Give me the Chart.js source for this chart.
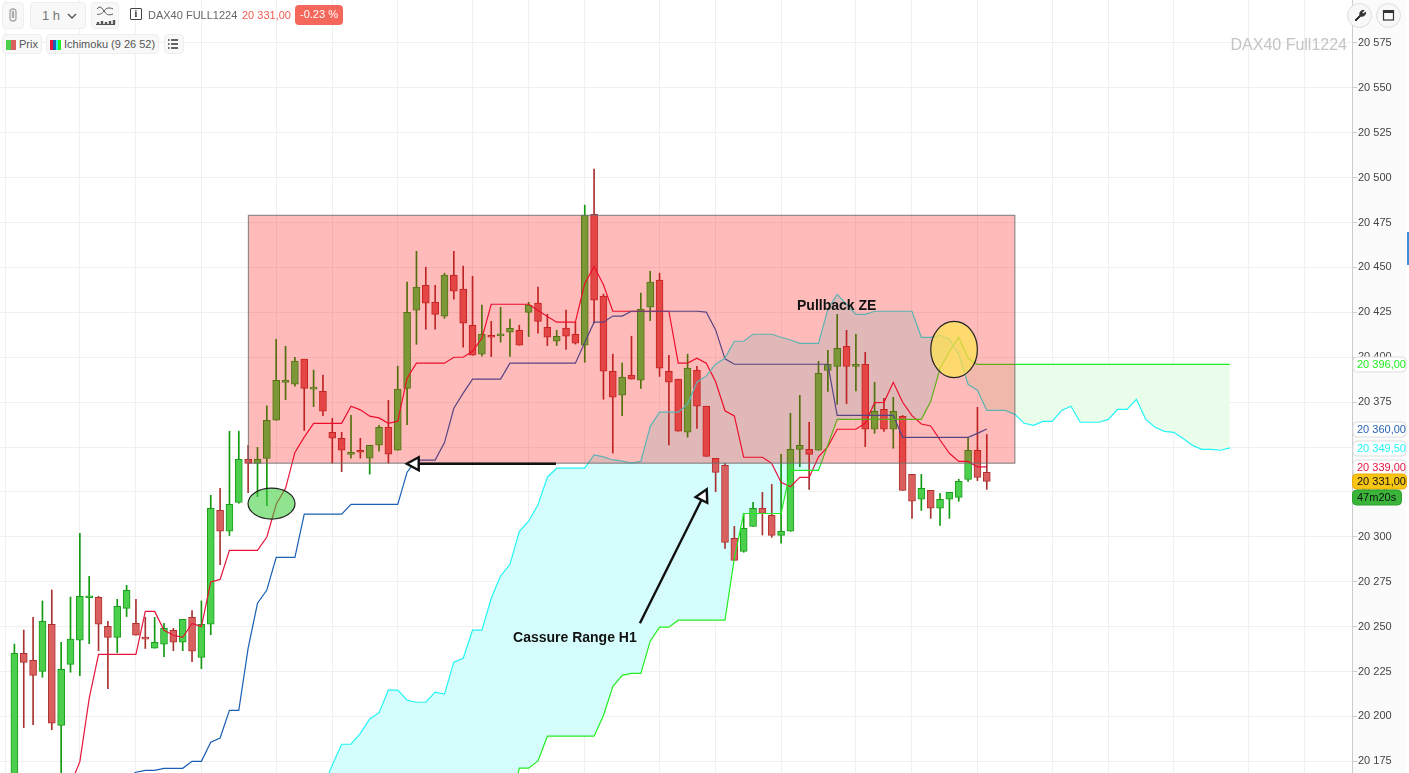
<!DOCTYPE html>
<html lang="fr">
<head>
<meta charset="utf-8">
<title>DAX40 Full1224 - Ichimoku 1h</title>
<script src="https://cdn.jsdelivr.net/npm/chart.js@4/dist/chart.umd.min.js"></script>
<style>
    html, body { margin: 0; padding: 0; background: #fff; overflow: hidden; font-family: "Liberation Sans", Arial, sans-serif; }
    #wrap { position: relative; width: 1409px; height: 773px; overflow: hidden; }
    #chart { position: absolute; left: 0; top: 0; }
    .ui { position: absolute; box-sizing: border-box; font-size: 11px; color: #666; white-space: nowrap; }
    .btn { background: #f8f8f8; border: 1px solid #eee; border-radius: 4px; }
    .sw { position: absolute; top: 5px; height: 10px; }
    .round { width: 25px; height: 25px; border-radius: 50%; background: #f8f8f8; border: 1px solid #ddd; }
</style>
</head>
<body>
<div id="wrap">
    <canvas id="chart" width="1409" height="773"></canvas>

    <!-- Top toolbar -->
    <div class="ui btn" style="left:2px;top:2px;width:22px;height:27px;">
        <svg width="20" height="25"><path d="M7 15V9a3 3 0 0 1 6 0v6a3 3 0 0 1-6 0Z M9.5 15V9a.5 .5 0 0 1 1 0v6" fill="none" stroke="#aaa" stroke-width="1.4"/></svg>
    </div>
    <div class="ui btn" style="left:30px;top:2px;width:56px;height:27px;line-height:26px;padding-left:11px;font-size:13px;color:#777;">1 h
        <svg style="position:absolute;left:36px;top:10px;" width="10" height="7"><path d="M1 1l4 4 4-4" fill="none" stroke="#555" stroke-width="1.4"/></svg>
    </div>
    <div class="ui btn" style="left:91px;top:2px;width:28px;height:27px;">
        <svg width="26" height="25"><path d="M5 6c3-4 5-1 7 2s4 5 9 3M5 11c2 1 5 0 7-3s5-4 9-2" fill="none" stroke="#555" stroke-width="1"/><path d="M6 21v-2M10 21v-3M14 21v-2M18 21v-3M22 21v-4" stroke="#555" stroke-width="2.4"/><path d="M4 21.5h19" stroke="#555"/></svg>
    </div>
    <div class="ui" style="left:130px;top:8px;width:12px;height:12px;border:1.5px solid #444;border-radius:1px;color:#333;font:bold 10px/10px 'Liberation Serif',serif;text-align:center;">i</div>
    <div class="ui" style="left:148px;top:9px;">DAX40 FULL1224</div>
    <div class="ui" style="left:242px;top:9px;color:#ee5c52;">20 331,00</div>
    <div class="ui" style="left:295px;top:5px;width:48px;height:20px;line-height:19px;text-align:center;background:#f4685c;color:#fff;border-radius:4px;">-0.23 %</div>

    <!-- Legend row -->
    <div class="ui btn" style="left:2px;top:34px;width:40px;height:20px;line-height:19px;padding-left:16px;color:#555;">
        <span class="sw" style="left:3px;width:5px;background:#4ccf4c;"></span><span class="sw" style="left:8px;width:5px;background:#d9605f;"></span>Prix
    </div>
    <div class="ui btn" style="left:46px;top:34px;width:113px;height:20px;line-height:19px;padding-left:17px;color:#555;">
        <span class="sw" style="left:3px;width:3px;background:#e5143c;"></span><span class="sw" style="left:6px;width:3px;background:#1a5fb4;"></span><span class="sw" style="left:9px;width:2px;background:#22f5f5;"></span><span class="sw" style="left:11px;width:3px;background:#22ee22;"></span>Ichimoku (9 26 52)
    </div>
    <div class="ui btn" style="left:164px;top:34px;width:20px;height:20px;">
        <svg width="18" height="18"><path d="M6 5h7M6 9h7M6 13h7" stroke="#333" stroke-width="1.5"/><path d="M3 5h1.5M3 9h1.5M3 13h1.5" stroke="#333" stroke-width="1.5"/></svg>
    </div>

    <!-- Top right -->
    <div class="ui round" style="left:1347px;top:3px;">
        <svg width="23" height="23"><path d="M7 16l5-5a3.4 3.4 0 0 1 4-4.5l-2 2 1.5 1.5 2-2a3.4 3.4 0 0 1-4.5 4l-5 5Z" fill="#333" stroke="#333"/></svg>
    </div>
    <div class="ui round" style="left:1376px;top:3px;">
        <svg width="23" height="23"><rect x="6.5" y="7" width="10" height="9" fill="none" stroke="#333" stroke-width="1.2"/><rect x="6" y="6" width="11" height="3" fill="#333"/></svg>
    </div>
    <div class="ui" style="right:62px;top:36px;font-size:16px;color:#c4c4c4;">DAX40 Full1224</div>
    <div class="ui" style="left:1407px;top:232px;width:2px;height:33px;background:#3d8fd8;"></div>
</div>

<script>
// Candles, one entry per hour
const opens = [
    20150, 20235.1, 20231.2, 20225.1, 20251.3, 20195, 20229, 20242.4, 20266.1, 20266.3,
    20250.2, 20244, 20260.2, 20251.9, 20244, 20238, 20240.2, 20248, 20241.3, 20255.2,
    20232.9, 20251.3, 20314.8, 20303.1, 20319.2, 20343.2, 20340.9, 20343.7, 20364.9, 20386,
    20385, 20398.9, 20382.2, 20381, 20358.2, 20354.9, 20345.9, 20348.2, 20343.8, 20351,
    20361, 20348.2, 20382.7, 20426.2, 20440.1, 20430.6, 20422.8, 20445.7, 20437.9, 20417.8,
    20401.7, 20411.5, 20411.9, 20413.9, 20415, 20425, 20430.1, 20416.7, 20408.9, 20416.2,
    20412.8, 20406.7, 20479.6, 20434, 20392.2, 20378.9, 20390, 20387.2, 20427.9, 20442.9,
    20392.2, 20387.8, 20358.3, 20392.8, 20372.7, 20343.7, 20339.8, 20299.2, 20291.9, 20305.8,
    20315.9, 20312, 20300.8, 20303.1, 20348.7, 20348.7, 20348.2, 20392.7, 20394.9, 20406.1,
    20394.9, 20396, 20359.9, 20371, 20359.9, 20367.1, 20334.8, 20320.9, 20325.9, 20315.9,
    20320.9, 20322, 20332, 20348.2, 20335.9
];
const highs = [
    20240.3, 20248.1, 20255.2, 20264.3, 20270.4, 20241.3, 20266.5, 20302, 20278, 20266.9,
    20253, 20265.2, 20273, 20265.2, 20255.2, 20255.2, 20251.9, 20249, 20254, 20259,
    20264.3, 20323.1, 20327, 20358.8, 20358.8, 20351, 20349.8, 20372.9, 20410, 20406.1,
    20400, 20398.9, 20392.8, 20390, 20366, 20358.2, 20367.7, 20354.9, 20351, 20362.1,
    20376, 20395, 20441.8, 20459, 20450.1, 20440.1, 20446.8, 20459, 20450.7, 20445.1,
    20429, 20420, 20427.8, 20421.2, 20417.8, 20430.6, 20439, 20424, 20415, 20426.2,
    20419.5, 20484.7, 20504.7, 20435.1, 20401.7, 20396.7, 20411.7, 20435.7, 20447.9, 20446.8,
    20401.1, 20387.8, 20401.7, 20395, 20372.7, 20343.7, 20340.9, 20305.8, 20313, 20319.2,
    20324.8, 20329.2, 20345.9, 20368.8, 20378.8, 20363.7, 20397.7, 20403.8, 20423.9, 20415,
    20412.7, 20402.7, 20386, 20377.1, 20377.7, 20367.6, 20334.8, 20334.8, 20325.9, 20324.2,
    20324.8, 20332, 20354.8, 20372.1, 20357
];
const lows = [
    20140, 20193.8, 20195.4, 20221.8, 20192.6, 20165, 20224.6, 20222.7, 20240.5, 20236.6,
    20215.5, 20235.5, 20255.6, 20245.2, 20237.8, 20238, 20233.3, 20236.6, 20236.6, 20230.5,
    20226.6, 20245.5, 20284.5, 20300.7, 20318.7, 20324.6, 20322.4, 20317.4, 20364.9, 20376.4,
    20383.9, 20359.2, 20372.5, 20367.5, 20341, 20336.3, 20343.8, 20343.8, 20334.9, 20347.7,
    20341, 20348.2, 20362.5, 20407.2, 20415.6, 20415.6, 20421.7, 20432.3, 20405.6, 20401.1,
    20400.6, 20400.4, 20408.4, 20400.4, 20406.7, 20411.5, 20413.4, 20406.5, 20406.5, 20404.3,
    20407.3, 20397.2, 20419, 20376.6, 20346.6, 20367.5, 20387.8, 20382.6, 20420.4, 20389.3,
    20351.2, 20358.8, 20355.5, 20360.3, 20344.8, 20325.1, 20293.6, 20286.9, 20291.4, 20305.8,
    20301, 20299.7, 20296.4, 20303.1, 20339, 20326.4, 20348.2, 20381, 20373.8, 20374.1,
    20381.2, 20350.2, 20357.6, 20358.7, 20349.3, 20325.9, 20310.3, 20314.7, 20310.3, 20306.4,
    20310.3, 20319.8, 20330.9, 20331.3, 20326.4
];
const closes = [
    20235.1, 20230.1, 20222.9, 20253, 20196.2, 20226.2, 20243, 20266.9, 20266.3, 20251.3,
    20244, 20261.3, 20270.2, 20245.2, 20243, 20241.3, 20249, 20241.3, 20254, 20236.3,
    20251.3, 20315.9, 20303.1, 20318.1, 20343.2, 20340.9, 20343.2, 20364.9, 20387.2, 20386.2,
    20397.8, 20382.7, 20382.5, 20369.9, 20354.9, 20348.2, 20346.1, 20347.1, 20351, 20361,
    20346, 20382.2, 20425, 20439, 20430.1, 20423.9, 20445.7, 20436.8, 20418.9, 20401.1,
    20412.8, 20411.1, 20412.2, 20416.1, 20406.7, 20429, 20420, 20411.2, 20411.7, 20411.7,
    20407.8, 20479.1, 20431.8, 20392.2, 20377.8, 20388.9, 20387.8, 20426.8, 20441.8, 20393.9,
    20386.1, 20358.8, 20393.9, 20372.7, 20344.8, 20335.9, 20296.9, 20286.9, 20304.7, 20315.9,
    20313.1, 20300.8, 20303.1, 20348.7, 20350.9, 20345.9, 20391, 20396, 20405, 20394.9,
    20396, 20359.9, 20369.9, 20359.9, 20369.9, 20325.9, 20319.8, 20327, 20315.9, 20320.9,
    20324.8, 20330.9, 20348.2, 20333.1, 20330.9
];

// Ichimoku lines, each one starts at its own candle index
const tenkanStart = 6;
const tenkan = [
    20162, 20174.8, 20210, 20234.6, 20234.6, 20234.6, 20234.6, 20234.6, 20258.5, 20258.5,
    20248, 20245.2, 20244, 20251.8, 20250, 20274.9, 20276.3, 20292.5, 20292.5, 20292.5,
    20292.5, 20299.9, 20318.1, 20327, 20347, 20355.5, 20363.2, 20363.2, 20363.2, 20363.2,
    20372.7, 20370.7, 20367.2, 20366.2, 20363.2, 20364.4, 20388.3, 20396.7, 20396.7, 20396.7,
    20396.7, 20400, 20400, 20403.3, 20410.6, 20429.5, 20429.5, 20429.5, 20429.5, 20429.5,
    20426, 20422.7, 20419.5, 20419.5, 20419.5, 20441, 20450.5, 20440.3, 20425.6, 20425.6,
    20425.6, 20425.6, 20425.6, 20425.6, 20425.6, 20396.7, 20396.7, 20399.5, 20396.7, 20386.3,
    20370.2, 20367.3, 20344.3, 20344.3, 20344.3, 20340.9, 20330.3, 20327.9, 20333.1, 20333.1,
    20344.6, 20350.2, 20359.9, 20359.9, 20359.9, 20363.2, 20374.7, 20374.9, 20386, 20374.9,
    20367.5, 20362.8, 20361.7, 20353.9, 20346.5, 20342, 20342, 20338.9, 20338.9
];
const kijunStart = 12;
const kijun = [
    20166, 20168.9, 20170, 20170, 20171.1, 20171.1, 20171.1, 20175, 20175, 20185.6,
    20188, 20203.4, 20203.4, 20238, 20263, 20270.4, 20288.6, 20288.6, 20288.6, 20312.6,
    20312.6, 20312.6, 20312.6, 20312.6, 20318.1, 20318.1, 20318.1, 20318.1, 20318.1, 20318.1,
    20336, 20342.7, 20342.7, 20342.7, 20352.5, 20371.6, 20380, 20387.8, 20387.8, 20387.8,
    20387.8, 20396.7, 20396.7, 20396.7, 20396.7, 20396.7, 20396.7, 20396.7, 20396.7, 20408.2,
    20419.5, 20419.5, 20422.9, 20422.9, 20425.6, 20425.6, 20425.6, 20425.6, 20425.6, 20425.6,
    20425.6, 20425.6, 20425.1, 20415.2, 20399.1, 20396.1, 20396.1, 20396.1, 20396.1, 20396.1,
    20396.1, 20396.1, 20396.1, 20396.1, 20396.1, 20396.1, 20367.6, 20367.6, 20367.6, 20367.6,
    20367.6, 20367.6, 20367.6, 20355.4, 20355.4, 20355.4, 20355.4, 20355.4, 20355.4, 20355.4,
    20355.4, 20357.6, 20360
];
// Both cloud spans share the same start so the fill lines up
const spanStart = 33;
const spanA = [
    20160, 20173, 20184.5, 20184.5, 20190.6, 20198.6, 20202.1, 20214.6, 20214.6, 20209,
    20207.9, 20207.9, 20213.5, 20212.4, 20230.2, 20232.4, 20248, 20248, 20265.8, 20278.2,
    20284.7, 20302.9, 20308.7, 20317.8, 20333.2, 20338.2, 20338.2, 20338.2, 20338.2, 20345.6,
    20344.5, 20342.8, 20342.1, 20341, 20342, 20361.4, 20369.4, 20369.4, 20369.4, 20373.9,
    20386.1, 20389.6, 20396.1, 20399.5, 20408.9, 20408.9, 20412.8, 20412.8, 20412.8, 20411.1,
    20409.6, 20407.7, 20407.7, 20407.7, 20426.7, 20435, 20429.5, 20423.9, 20423.9, 20425.6,
    20425.6, 20425.6, 20425.6, 20425.6, 20411.1, 20411.1, 20412.2, 20410, 20401.6, 20384.9,
    20381.6, 20370.4, 20370.4, 20370.4, 20368.2, 20363.2, 20362.1, 20364.3, 20364.3, 20370.4,
    20372.7, 20363.8, 20363.8, 20363.8, 20365.4, 20371, 20371, 20376.6, 20365.4, 20361,
    20358.7, 20358.2, 20354.8, 20350.9, 20348.7, 20348.7, 20348.2, 20349.5
];
const spanB = [
    20130, 20130, 20130, 20130, 20130, 20130, 20130, 20130, 20130, 20130,
    20130, 20130, 20130, 20130, 20130, 20130, 20130, 20130, 20130, 20130,
    20150, 20171.2, 20171.2, 20175.2, 20189, 20189, 20189, 20189, 20189, 20189,
    20200.5, 20216.6, 20222.9, 20224, 20224, 20241.9, 20249.7, 20249.7, 20253.6, 20253.6,
    20253.6, 20253.6, 20253.6, 20253.6, 20288, 20313, 20313, 20313, 20313, 20313,
    20337, 20337, 20337, 20337, 20351.1, 20365.4, 20365.4, 20365.4, 20365.4, 20365.4,
    20365.4, 20365.4, 20365.4, 20365.4, 20365.4, 20375.3, 20393.8, 20403.1, 20411.1, 20399.4,
    20396, 20396, 20396, 20396, 20396, 20396, 20396, 20396, 20396, 20396,
    20396, 20396, 20396, 20396, 20396, 20396, 20396, 20396, 20396, 20396,
    20396, 20396, 20396, 20396, 20396, 20396, 20396, 20396
];

// Axis
const priceTicks = [20175, 20200, 20225, 20250, 20275, 20300, 20325, 20350, 20375, 20400, 20425, 20450, 20475, 20500, 20525, 20550, 20575];
const timeGrid = [-1, 7, 13, 20, 28, 34, 41, 49, 55, 61, 69, 75, 82, 90, 96, 103, 111, 117, 124, 132, 138];

// Drawings on the chart (candle index / price)
const zoneX = [25.03, 107];
const zoneY = [20341, 20479];
const greenEllipse = [27.5, 20318.5];
const yellowEllipse = [100.5, 20404.3];
const arrowH = [57.92, 20340.7, 41.96, 20340.7];
const arrowUp = [66.9, 20251.9, 74.05, 20326.5];
const labelCassure = ['Cassure Range H1', 53.33, 20243.7];
const labelPullback = ['Pullback ZE', 83.7, 20428.5];

// Price tags on the right side
const tagValues = [20396, 20360, 20349.5, 20339, 20331];
const tagColors = ['#22ee22', '#2a62b0', '#22f5f5', '#e5143c', '#111'];

const UP_FILL = '#4ccf4c', UP_LINE = '#1b9e1b', UP_WICK = '#119911';
const DOWN_FILL = '#d9605f', DOWN_LINE = '#b13030', DOWN_WICK = '#a83232';

function isUp(i) { return closes[i] >= opens[i]; }

function fromIndex(values, start) {
    return values.map((v, i) => ({ x: start + i, y: v }));
}

function formatPrice(v, decimals) {
    const s = v.toFixed(decimals).replace('.', ',');
    return s.slice(0, 2) + ' ' + s.slice(2);
}

function lineSet(label, values, start, color, extra) {
    return Object.assign({
        type: 'line',
        label: label,
        data: fromIndex(values, start),
        borderColor: color,
        borderWidth: 1.2,
        pointRadius: 0,
        tension: 0,
        fill: false,
        order: 1
    }, extra || {});
}

// ==========================================================
// DRAWINGS PLUGIN
// ==========================================================
function drawArrow(ctx, x1, y1, x2, y2) {
    const angle = Math.atan2(y2 - y1, x2 - x1);
    const headLen = 12, headHalf = 6.5;
    const bx = x2 - Math.cos(angle) * headLen, by = y2 - Math.sin(angle) * headLen;
    ctx.strokeStyle = '#111';
    ctx.lineWidth = 2.4;
    ctx.beginPath();
    ctx.moveTo(x1, y1);
    ctx.lineTo(bx, by);
    ctx.stroke();
    ctx.fillStyle = '#fff';
    ctx.lineJoin = 'miter';
    ctx.beginPath();
    ctx.moveTo(x2, y2);
    ctx.lineTo(bx - Math.sin(angle) * headHalf, by + Math.cos(angle) * headHalf);
    ctx.lineTo(bx + Math.sin(angle) * headHalf, by - Math.cos(angle) * headHalf);
    ctx.closePath();
    ctx.fill();
    ctx.stroke();
}

function drawEllipse(ctx, cx, cy, rx, ry, fill) {
    ctx.fillStyle = fill;
    ctx.strokeStyle = '#222';
    ctx.lineWidth = 1.2;
    ctx.beginPath();
    ctx.ellipse(cx, cy, rx, ry, 0, 0, Math.PI * 2);
    ctx.fill();
    ctx.stroke();
}

function roundTag(ctx, x, yc, w, h, fill, stroke) {
    ctx.beginPath();
    ctx.roundRect(x, yc - h / 2, w, h, 4);
    ctx.fillStyle = fill;
    ctx.fill();
    ctx.strokeStyle = stroke;
    ctx.lineWidth = 1;
    ctx.stroke();
}

const drawings = {
    id: 'drawings',
    beforeDraw(chart) {
        // axis panel background
        const ctx = chart.ctx, area = chart.chartArea;
        ctx.save();
        ctx.fillStyle = '#fbfbfb';
        ctx.fillRect(area.right, 0, 54, chart.height);
        ctx.restore();
    },
    afterDatasetsDraw(chart) {
        const ctx = chart.ctx, xs = chart.scales.x, ys = chart.scales.y;
        const px = v => xs.getPixelForValue(v), py = v => ys.getPixelForValue(v);
        ctx.save();

        // range zone over the candles
        const zx = px(zoneX[0]), zy = py(zoneY[1]);
        const zw = px(zoneX[1]) - zx, zh = py(zoneY[0]) - zy;
        ctx.fillStyle = 'rgba(255,0,0,0.27)';
        ctx.fillRect(zx, zy, zw, zh);
        ctx.strokeStyle = 'rgba(110,110,110,0.75)';
        ctx.lineWidth = 1.2;
        ctx.strokeRect(zx, zy, zw, zh);

        drawEllipse(ctx, px(greenEllipse[0]), py(greenEllipse[1]), 23.5, 15.5, 'rgba(53,205,53,0.55)');
        drawEllipse(ctx, px(yellowEllipse[0]), py(yellowEllipse[1]), 23.3, 28.2, 'rgba(253,230,77,0.7)');

        drawArrow(ctx, px(arrowH[0]), py(arrowH[1]), px(arrowH[2]), py(arrowH[3]));
        drawArrow(ctx, px(arrowUp[0]), py(arrowUp[1]), px(arrowUp[2]), py(arrowUp[3]));

        ctx.fillStyle = '#111';
        ctx.font = 'bold 14px "Liberation Sans", Arial, sans-serif';
        ctx.textBaseline = 'middle';
        ctx.textAlign = 'left';
        [labelCassure, labelPullback].forEach(l => ctx.fillText(l[0], px(l[1]), py(l[2])));
        ctx.restore();
    },
    afterDraw(chart) {
        const ctx = chart.ctx, ys = chart.scales.y, left = chart.chartArea.right + 0.5;
        ctx.save();
        ctx.font = '11px "Liberation Sans", Arial, sans-serif';
        ctx.textBaseline = 'middle';
        ctx.textAlign = 'left';
        tagValues.forEach((v, i) => {
            const y = Math.round(ys.getPixelForValue(v)) + 0.5;
            const last = i === tagValues.length - 1;
            if (last) roundTag(ctx, left, y, 54, 15, '#f7c514', '#eeaa00');
            else roundTag(ctx, left + 0.5, y, 53, 15, '#fff', '#ddd');
            ctx.fillStyle = tagColors[i];
            ctx.fillText(formatPrice(v, 2), left + 4.5, y + 0.5);
            if (last) {
                // countdown under the last price
                roundTag(ctx, left, y + 16, 49, 15, '#3ab53a', '#2fa02f');
                ctx.fillStyle = '#111';
                ctx.fillText('47m20s', left + 4.5, y + 16.5);
            }
        });
        ctx.restore();
    }
};

// ==========================================================
// CHART
// ==========================================================
Chart.defaults.font.family = '"Liberation Sans", Arial, sans-serif';

new Chart(document.getElementById('chart'), {
    type: 'bar',
    data: {
        datasets: [
            // cloud spans draw their fill first
            lineSet('Senkou A', spanA, spanStart, '#22f5f5', {
                fill: { target: 1, above: '#d6fdfd', below: '#eafdea' }
            }),
            lineSet('Senkou B', spanB, spanStart, '#22ee22'),
            lineSet('Kijun', kijun, kijunStart, '#1a5fb4'),
            lineSet('Tenkan', tenkan, tenkanStart, '#e5143c'),
            {
                label: 'Corps',
                data: opens.map((o, i) => ({ x: i, y: [o, closes[i]] })),
                backgroundColor: opens.map((o, i) => isUp(i) ? UP_FILL : DOWN_FILL),
                borderColor: opens.map((o, i) => isUp(i) ? UP_LINE : DOWN_LINE),
                borderWidth: 1,
                borderSkipped: false,
                barThickness: 7,
                minBarLength: 2,
                grouped: false,
                order: 2
            },
            {
                label: 'Meches',
                data: lows.map((l, i) => ({ x: i, y: [l, highs[i]] })),
                backgroundColor: opens.map((o, i) => isUp(i) ? UP_WICK : DOWN_WICK),
                borderWidth: 0,
                barThickness: 1,
                grouped: false,
                order: 3
            }
        ]
    },
    options: {
        responsive: false,
        animation: false,
        devicePixelRatio: 1,
        layout: { padding: 0 },
        plugins: {
            legend: { display: false },
            tooltip: { enabled: false },
            filler: { drawTime: 'beforeDatasetsDraw' }
        },
        scales: {
            x: {
                type: 'linear',
                min: -1.54,
                max: 143.06,
                offset: false,
                border: { display: false },
                grid: { color: '#f0f0f0', offset: false, drawTicks: false },
                ticks: { display: false },
                afterBuildTicks: s => { s.ticks = timeGrid.map(v => ({ value: v })); },
                afterFit: s => { s.height = 0; }
            },
            y: {
                position: 'right',
                min: 20168.5,
                max: 20598.9,
                border: { color: '#cccccc' },
                grid: { color: '#f0f0f0', tickColor: '#cccccc', tickLength: 5 },
                ticks: {
                    color: '#444',
                    font: { size: 11 },
                    padding: 1,
                    crossAlign: 'near',
                    callback: v => formatPrice(v, 0)
                },
                afterBuildTicks: s => { s.ticks = priceTicks.map(v => ({ value: v })); },
                afterFit: s => {
                    s.width = 57;
                    s.paddingTop = 0;
                    s.paddingBottom = 0;
                }
            }
        }
    },
    plugins: [drawings]
});
</script>
</body>
</html>
